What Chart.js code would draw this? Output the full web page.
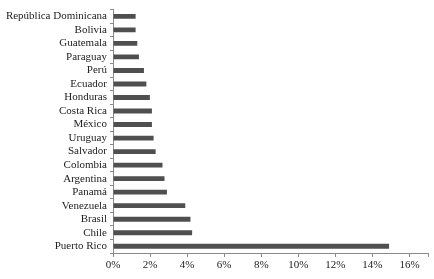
<!DOCTYPE html>
<html>
<head>
<meta charset="utf-8">
<script src="https://cdn.jsdelivr.net/npm/chart.js@4/dist/chart.umd.min.js"></script>
<style>
  html, body { margin: 0; padding: 0; background: #fff; }
  #wrap { width: 434px; height: 279px; }
</style>
</head>
<body>
<div id="wrap"><canvas id="c" width="434" height="279"></canvas></div>
<script>
// countries top to bottom, as in the picture
var countries = ["República Dominicana", "Bolivia", "Guatemala", "Paraguay", "Perú", "Ecuador",
  "Honduras", "Costa Rica", "México", "Uruguay", "Salvador", "Colombia", "Argentina",
  "Panamá", "Venezuela", "Brasil", "Chile", "Puerto Rico"];
var shares = [1.22, 1.22, 1.31, 1.40, 1.67, 1.80, 1.99, 2.10, 2.10, 2.19, 2.30, 2.67, 2.78,
  2.91, 3.90, 4.18, 4.27, 14.90];
var xTicks = [0, 2, 4, 6, 8, 10, 12, 14, 16, 17];

var font = { family: "'Liberation Serif', 'Times New Roman', serif", size: 11 };

new Chart(document.getElementById("c"), {
  type: "bar",
  data: {
    labels: countries,
    datasets: [{
      data: shares,
      backgroundColor: "#4f4f4f",
      borderWidth: 0,
      barPercentage: 0.36,
      categoryPercentage: 1
    }]
  },
  options: {
    indexAxis: "y",
    responsive: false,
    animation: false,
    layout: { padding: { top: 8, right: 6, left: 0, bottom: 0 } },
    plugins: { legend: { display: false }, tooltip: { enabled: false } },
    scales: {
      x: {
        min: 0, max: 17,
        afterBuildTicks: function(s) { s.ticks = xTicks.map(function(v){ return { value: v }; }); },
        afterFit: function(s) { s.height = 26; },
        border: { color: "#8a8a8a", width: 1 },
        grid: { drawOnChartArea: false, drawTicks: true, tickLength: 4, color: "#8a8a8a" },
        ticks: {
          font: font, color: "#222", padding: 2, maxRotation: 0, autoSkip: false,
          callback: function(v) { return v === 17 ? "" : v + "%"; }
        }
      },
      y: {
        afterFit: function(s) { s.width = 113; },
        border: { color: "#8a8a8a", width: 1 },
        grid: { drawOnChartArea: false, drawTicks: true, tickLength: 3, color: "#8a8a8a" },
        ticks: { font: font, color: "#222", padding: 3, autoSkip: false }
      }
    }
  }
});
</script>
</body>
</html>
